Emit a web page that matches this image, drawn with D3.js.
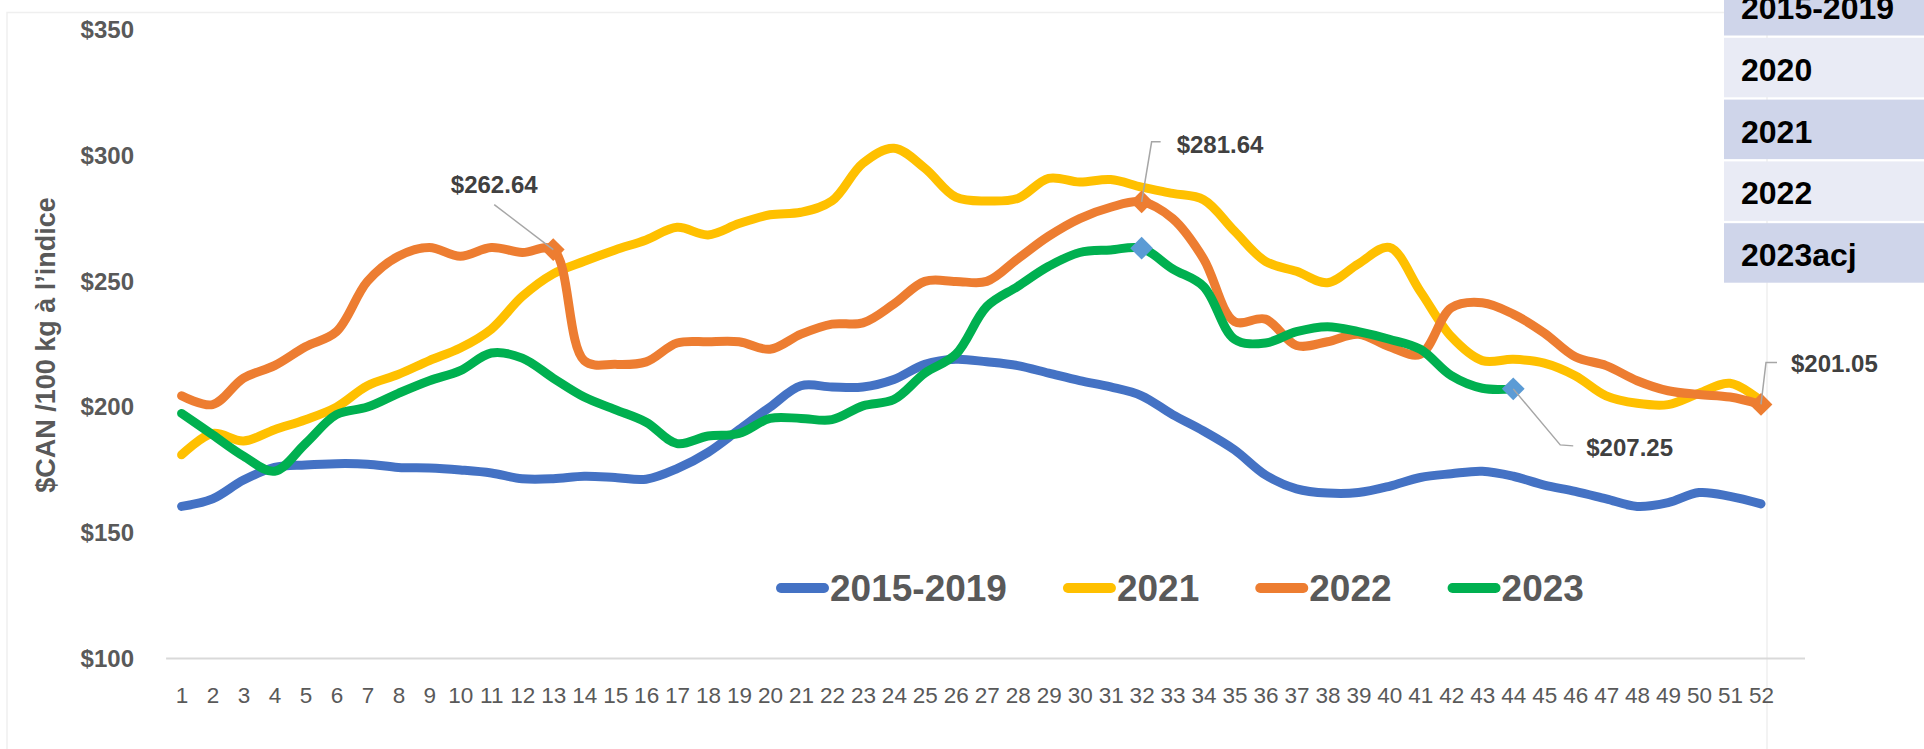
<!DOCTYPE html>
<html lang="fr">
<head>
	<meta charset="utf-8">
	<title>Prix hebdomadaire du porc</title>
	<script src="https://cdnjs.cloudflare.com/ajax/libs/d3/7.8.5/d3.min.js"></script>
	<style>
		body { margin: 0; background: #fff; }
		svg { display: block; font-family: "Liberation Sans", Arial, sans-serif; }
	</style>
</head>
<body>
	<svg width="1924" height="749"></svg>

	<script type="text/javascript">

		// semaines 1..52
		var weeks = [1,2,3,4,5,6,7,8,9,10,11,12,13,14,15,16,17,18,19,20,21,22,23,24,25,26,
			27,28,29,30,31,32,33,34,35,36,37,38,39,40,41,42,43,44,45,46,47,48,49,50,51,52];

		var avg2015_2019 = [160.5,163.5,171,176,177,177.5,177.3,176,175.8,175,173.8,171.5,171.5,172.5,172,171.3,
			175.5,182,191,200,208.5,208,208,211,217,219,218,216.5,213.5,210.5,208,204.5,197,190.5,183,173,
			167.5,165.8,166,168.5,172,173.5,174.5,172.5,169,166.5,163.5,160.5,162,166,164.5,161.5];

		var y2021 = [181,189.5,186.5,191,195,200,208.5,213,218.5,223.5,231,244,253,258,262.5,266.5,271.5,268.5,
			273,276.5,277.5,282,297,303,295,283.5,282,283,291,289.5,290.5,287.5,285,282.5,270,258,254,249.5,
			257,263.5,246,228,218.5,219,217.5,212.5,204.5,201.5,201,205.5,209.5,202.5];

		var y2022 = [204.5,201,211.5,216.5,224,230,250,260,263.5,260,263.5,261.5,262.64,218.5,217,218,225.5,226,
			226,223,229,233,233.5,241,250,250,250,259,268,275,279.5,281.64,275,259,234,235,224.5,226,229,224,
			221,239.5,241.5,237,229.5,220,216.5,210.5,206.5,205,204,201.05];

		var y2023 = [197.5,189,180.5,174.5,185.5,197,200,205.5,210.5,214.5,221.5,219.5,211.5,204,199,194,185.5,
			188.5,189.5,195.5,195.5,195,200.5,203,213.5,221,240,248,256,261.5,262.5,263.2,255,248,227,225.5,
			230,232,230,227,223,212.5,207.5,207.25];

		var seriesNames = ["2015-2019", "2021", "2022", "2023"];
		var seriesValues = [avg2015_2019, y2021, y2022, y2023];
		var seriesColors = ["#4472C4", "#FFC000", "#ED7D31", "#00B050"];

		var yTicks = [100, 150, 200, 250, 300, 350];
		var tableRows = ["2015-2019", "2020", "2021", "2022", "2023acj"];

		// points marqués (losanges)
		var markers = [
			{ serie: 2, week: 13, color: "#ED7D31" },
			{ serie: 2, week: 32, color: "#ED7D31" },
			{ serie: 2, week: 52, color: "#ED7D31" },
			{ serie: 3, week: 32, color: "#5B9BD5" },
			{ serie: 3, week: 44, color: "#5B9BD5" }
		];
		var callouts = [
			{ serie: 2, week: 13, text: "$262.64" },
			{ serie: 2, week: 32, text: "$281.64" },
			{ serie: 3, week: 44, text: "$207.25" },
			{ serie: 2, week: 52, text: "$201.05" }
		];

		var svg = d3.select("svg");

		var x = d3.scalePoint().domain(weeks).range([181.6, 1761]);
		var y = d3.scaleLinear().domain([100, 350]).range([658.5, 30]);

		// cadre du graphique
		svg.append("rect")
			.attr("x", 7).attr("y", 12.5)
			.attr("width", 1760).attr("height", 800)
			.attr("fill", "#fff")
			.attr("stroke", "#EFEFEF")
			.attr("stroke-width", 1.5);

		// ligne de l'axe horizontal
		svg.append("line")
			.attr("x1", x(1) - 15.5).attr("x2", x(52) + 44)
			.attr("y1", y(100)).attr("y2", y(100))
			.attr("stroke", "#D9D9D9")
			.attr("stroke-width", 2);

		// axe Y
		var yAxis = svg.append("g")
			.attr("transform", "translate(134,0)")
			.call(d3.axisLeft(y).tickValues(yTicks).tickSize(0).tickPadding(0)
				.tickFormat(function(d) { return "$" + d; }));
		yAxis.select(".domain").remove();
		yAxis.selectAll("text")
			.attr("font-family", "Liberation Sans, Arial, sans-serif")
			.attr("font-size", 24)
			.attr("font-weight", "bold")
			.attr("fill", "#595959");

		// axe X
		var xAxis = svg.append("g")
			.attr("transform", "translate(0," + y(100) + ")")
			.call(d3.axisBottom(x).tickSize(0));
		xAxis.select(".domain").remove();
		xAxis.selectAll("text")
			.attr("y", 44.5)
			.attr("dy", 0)
			.attr("font-family", "Liberation Sans, Arial, sans-serif")
			.attr("font-size", 22.5)
			.attr("fill", "#595959");

		// titre axe Y
		svg.append("text")
			.attr("transform", "translate(55,345) rotate(-90)")
			.attr("text-anchor", "middle")
			.attr("font-size", 27)
			.attr("font-weight", "bold")
			.attr("fill", "#595959")
			.text("$CAN /100 kg à l’indice");

		// courbes lissées
		var line = d3.line()
			.x(function(d, i) { return x(weeks[i]); })
			.y(function(d) { return y(d); })
			.curve(d3.curveCatmullRom.alpha(0.5));

		svg.append("g").selectAll("path")
			.data(seriesValues)
			.enter().append("path")
			.attr("d", line)
			.attr("fill", "none")
			.attr("stroke", function(d, i) { return seriesColors[i]; })
			.attr("stroke-width", 9)
			.attr("stroke-linecap", "round")
			.attr("stroke-linejoin", "round");

		// losanges
		svg.append("g").selectAll("path")
			.data(markers)
			.enter().append("path")
			.attr("d", d3.symbol().type(d3.symbolSquare).size(260))
			.attr("transform", function(d) {
				return "translate(" + x(d.week) + "," + y(seriesValues[d.serie][d.week - 1]) + ") rotate(45)";
			})
			.attr("fill", function(d) { return d.color; });

		// étiquettes avec lignes de rappel
		var offsets = {
			13: { tx: -59, ty: -57, anchor: "middle", lead: [[-59, -45], [0, 0]] },
			32: { tx: 35, ty: -49, anchor: "start", lead: [[19, -60], [10, -60], [0, 0]] },
			44: { tx: 73, ty: 67, anchor: "start", lead: [[0, 0], [47, 56], [60, 57]] },
			52: { tx: 30, ty: -32, anchor: "start", lead: [[16, -42], [5, -42], [0, 0]] }
		};
		var lbl = svg.append("g");
		callouts.forEach(function(c) {
			var px = x(c.week), py = y(seriesValues[c.serie][c.week - 1]);
			var o = offsets[c.week];
			lbl.append("path")
				.attr("d", d3.line()(o.lead.map(function(p) { return [px + p[0], py + p[1]]; })))
				.attr("fill", "none")
				.attr("stroke", "#A6A6A6")
				.attr("stroke-width", 1.5);
			lbl.append("text")
				.attr("x", px + o.tx).attr("y", py + o.ty)
				.attr("text-anchor", o.anchor)
				.attr("font-size", 24)
				.attr("font-weight", "bold")
				.attr("fill", "#404040")
				.text(c.text);
		});

		// légende
		var legend = svg.append("g").attr("transform", "translate(777,588)");
		var lx = 0;
		seriesNames.forEach(function(name, i) {
			legend.append("line")
				.attr("x1", lx + 4).attr("x2", lx + 47)
				.attr("y1", 0).attr("y2", 0)
				.attr("stroke", seriesColors[i])
				.attr("stroke-width", 10)
				.attr("stroke-linecap", "round");
			var t = legend.append("text")
				.attr("x", lx + 53).attr("y", 12.5)
				.attr("font-size", 37)
				.attr("font-weight", "bold")
				.attr("fill", "#595959")
				.text(name);
			lx += 53 + t.node().getComputedTextLength() + 57;
		});

		// tableau en haut à droite
		var table = svg.append("g");
		table.selectAll("rect")
			.data(tableRows)
			.enter().append("rect")
			.attr("x", 1724)
			.attr("y", function(d, i) { return -24 + i * 61.8; })
			.attr("width", 200)
			.attr("height", 59.5)
			.attr("fill", function(d, i) { return i % 2 === 0 ? "#CFD5EA" : "#E9EBF5"; });
		table.selectAll("text")
			.data(tableRows)
			.enter().append("text")
			.attr("x", 1741)
			.attr("y", function(d, i) { return -24 + i * 61.8 + 43; })
			.attr("font-size", 32)
			.attr("font-weight", "bold")
			.attr("fill", "#000")
			.text(function(d) { return d; });

	</script>
</body>
</html>
